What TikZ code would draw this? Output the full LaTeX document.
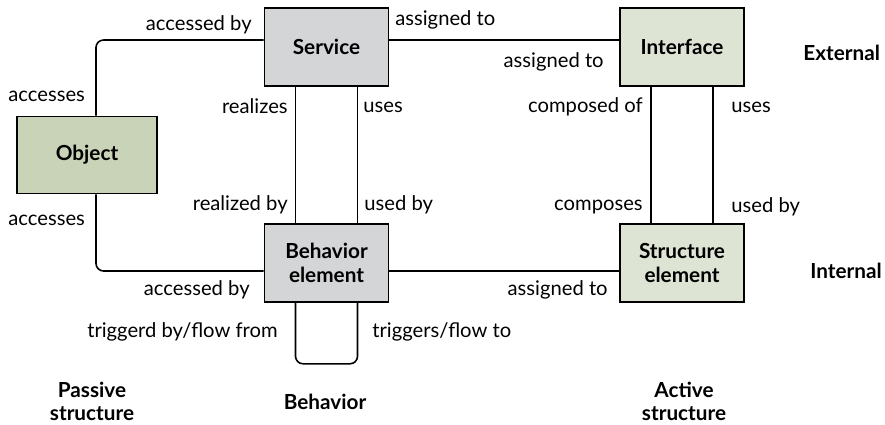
\documentclass[tikz,border=0pt]{standalone}
\usepackage{fontspec}
\setmainfont{Lato}
\usetikzlibrary{positioning}

\definecolor{svcgray}{HTML}{D4D5D7}
\definecolor{actgreen}{HTML}{DEE4D4}
\definecolor{objgreen}{HTML}{C9D3B7}

\begin{document}
\begin{tikzpicture}[x=0.02cm,y=-0.02cm,
    every node/.style={font=\fontsize{11.5}{14}\selectfont},
    box/.style={draw,line width=0.9pt,minimum width=2.48cm,minimum height=1.56cm,align=center,font=\fontsize{11.8}{14}\selectfont\bfseries},
    lbl/.style={inner sep=0pt},
    head/.style={inner sep=0pt,align=center,font=\fontsize{11.8}{13.2}\selectfont\bfseries},
    link/.style={line width=0.9pt}]
      \useasboundingbox (0,0) rectangle (885,424);

      \node[box,fill=svcgray]                      (Service)   at (326.5,47)  {Service};
      \node[box,fill=actgreen]                     (Interface) at (682,47)  {Interface};
      \node[box,fill=objgreen,minimum width=2.8cm,minimum height=1.54cm] (Object) at (87,155) {Object};
      \node[box,fill=svcgray]                      (Behavior)  at (326.5,263) {Behavior\\element};
      \node[box,fill=actgreen]                     (Structure) at (682,263) {Structure\\element};

      \draw[link] ([yshift=.14cm]Service.east) -- ([yshift=.14cm]Interface.west);
      \draw[link] ([yshift=-.16cm]Behavior.east) -- ([yshift=-.16cm]Structure.west);
      \draw[link,rounded corners=.15cm] ([xshift=.18cm]Object.north) |- ([yshift=.14cm]Service.west);
      \draw[link,rounded corners=.15cm] ([xshift=.18cm]Object.south) |- ([yshift=-.16cm]Behavior.west);
      \draw[link] ([xshift=-.62cm]Service.south) -- ([xshift=-.62cm]Behavior.north);
      \draw[link] ([xshift=.62cm]Service.south) -- ([xshift=.62cm]Behavior.north);
      \draw[link] ([xshift=-.62cm]Interface.south) -- ([xshift=-.62cm]Structure.north);
      \draw[link] ([xshift=.62cm]Interface.south) -- ([xshift=.62cm]Structure.north);
      \draw[link,rounded corners=.15cm] ([xshift=-.62cm]Behavior.south) -- ++(0,61) -| ([xshift=.62cm]Behavior.south);

      % relation labels
      \node[lbl,anchor=east] (AccByTop)  at (252,25)  {accessed by};
      \node[lbl,anchor=west] (AsgTop)    at (395,20)  {assigned to};
      \node[lbl,anchor=east] (AsgIf)     at (604,62)  {assigned to};
      \node[lbl,anchor=west] (AccUp)     at (8,96)    {accesses};
      \node[lbl,anchor=east] (Realizes)  at (288,106) {realizes};
      \node[lbl,anchor=west] (UsesSvc)   at (363,107) {uses};
      \node[lbl,anchor=east] (CompOf)    at (643,107) {composed of};
      \node[lbl,anchor=west] (UsesIf)    at (731,107) {uses};
      \node[lbl,anchor=east] (RealBy)    at (288,205) {realized by};
      \node[lbl,anchor=west] (UsedByBhv) at (364,205) {used by};
      \node[lbl,anchor=east] (Composes)  at (643,207) {composes};
      \node[lbl,anchor=west] (UsedByStr) at (731,207) {used by};
      \node[lbl,anchor=west] (AccLow)    at (8,220)   {accesses};
      \node[lbl,anchor=east] (AccByLow)  at (250,290) {accessed by};
      \node[lbl,anchor=east] (AsgLow)    at (608,290) {assigned to};
      \node[lbl,anchor=east] (TrigBy)    at (278,332) {triggerd by/flow from};
      \node[lbl,anchor=west] (Trig)      at (372,332) {triggers/flow to};

      % layer and aspect headings
      \node[head,anchor=west] (External) at (803,53)  {External};
      \node[head,anchor=west] (Internal) at (810,271) {Internal};
      \node[head] (Passive)  at (92,401)  {Passive\\structure};
      \node[head] (BhvHead)  at (325,402) {Behavior};
      \node[head] (Active)   at (684,401) {Active\\structure};
\end{tikzpicture}
\end{document}
